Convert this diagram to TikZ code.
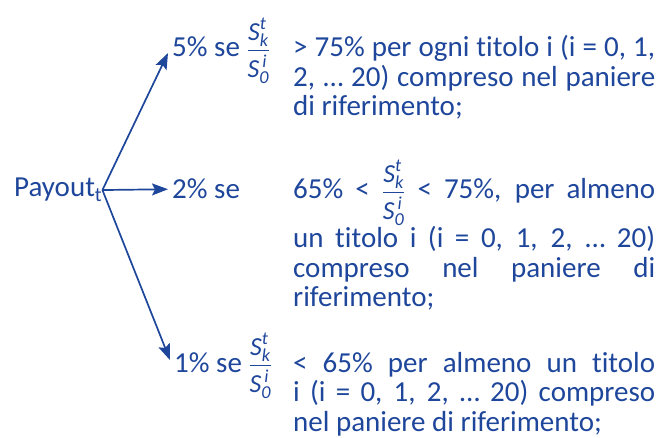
\documentclass[tikz,border=0pt]{standalone}
\usepackage{amsmath}
\usepackage{fontspec}
\setmainfont{Carlito}[Ligatures=NoCommon]
\usetikzlibrary{arrows.meta}
\definecolor{payblue}{RGB}{30,70,155}
\newcommand{\ratio}{{\fontsize{26}{26}\selectfont$\genfrac{}{}{1.1pt}{0}{\textit{S}^{\textit{t}}_{\textit{k}}}{\textit{S}^{\,\textit{i}}_{\textit{0}}}$}}
\tikzstyle{txt}=[text=payblue,inner sep=0pt,font=\fontsize{29}{29.5}\selectfont]
\tikzstyle{rate}=[txt,inner xsep=4pt,inner ysep=1pt,anchor=base west]
\tikzstyle{cond}=[txt,anchor=base west,text width=362pt,align=justify]

\begin{document}
\begin{tikzpicture}[x=1pt,y=-1pt,>={Stealth[length=16pt,width=12pt,inset=3pt]}]
\useasboundingbox (0,0) rectangle (663,438);
\node[txt,anchor=base west,inner sep=0pt] (payout) at (14,197) {Payout\textsubscript{t}};
\node[rate] (high) at (168,57) {5\% se \ratio};
\node[rate] (mid) at (168,199) {2\% se};
\node[rate] (low) at (170,372) {1\% se \ratio};
\node[cond] (highcond) at (293,57) {> 75\% per ogni titolo i (i = 0, 1,\linebreak
  2, … 20) compreso nel paniere\linebreak di riferimento;};
\node[cond] (midcond) at (293,199) {65\% < \ratio{} < 75\%, per almeno\linebreak
  un titolo i (i = 0, 1, 2, … 20)\linebreak compreso nel paniere di\linebreak riferimento;};
\node[cond] (lowcond) at (293,372) {< 65\% per almeno un titolo\linebreak
  i (i = 0, 1, 2, … 20) compreso\linebreak nel paniere di riferimento;};
\draw[->,payblue,line width=1.7pt] (payout.east) -- ([yshift=-2pt]high.west);
\draw[->,payblue,line width=1.7pt] (payout.east) -- (mid.west);
\draw[->,payblue,line width=1.7pt] (payout.east) -- ([yshift=6pt]low.west);
\end{tikzpicture}
\end{document}
